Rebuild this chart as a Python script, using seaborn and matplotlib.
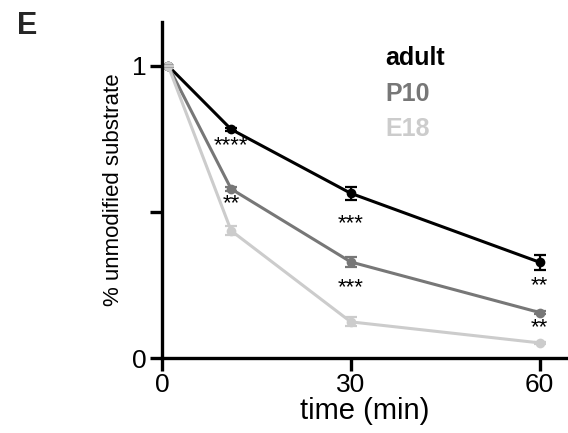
import matplotlib
matplotlib.use("Agg")
import matplotlib.pyplot as plt
import seaborn as sns
import pandas as pd

# values
time_min = [1, 11, 30, 60]
adult = [1.0, 0.783, 0.564, 0.328]
p10 = [1.0, 0.579, 0.329, 0.156]
e18 = [1.0, 0.436, 0.124, 0.052]
adult_err = [0.0, 0.006, 0.022, 0.026]
p10_err = [0.0, 0.008, 0.018, 0.006]
e18_err = [0.0, 0.015, 0.015, 0.004]

groups = ['adult', 'P10', 'E18']
colours = {'adult': '#000000', 'P10': '#777777', 'E18': '#cccccc'}

# significance marks: (time, y, text)
star_time = [11, 11, 30, 30, 60, 60]
star_y = [0.726, 0.527, 0.459, 0.240, 0.247, 0.103]
star_text = ['****', '**', '***', '***', '**', '**']

sns.set_style('ticks')
plt.rcParams['font.family'] = ['Liberation Sans', 'DejaVu Sans']

df = pd.concat([
    pd.DataFrame({'time': time_min, 'value': adult, 'err': adult_err, 'group': 'adult'}),
    pd.DataFrame({'time': time_min, 'value': p10, 'err': p10_err, 'group': 'P10'}),
    pd.DataFrame({'time': time_min, 'value': e18, 'err': e18_err, 'group': 'E18'}),
])

fig = plt.figure(figsize=(5.68, 4.33), dpi=100)
ax = fig.add_axes([0.285, 0.173, 0.715, 0.776])

sns.lineplot(data=df, x='time', y='value', hue='group', hue_order=groups,
             palette=colours, marker='o', markersize=7, markeredgewidth=0,
             linewidth=2.2, legend=False, ax=ax)
for g in groups:
    sub = df[df['group'] == g]
    ax.errorbar(sub['time'], sub['value'], yerr=sub['err'], fmt='none',
                ecolor=colours[g], elinewidth=1.6, capsize=4.5, capthick=1.6)

for t, y, s in zip(star_time, star_y, star_text):
    ax.text(t, y, s, ha='center', va='center', fontsize=16, color='black')

# legend as coloured text
for i, g in enumerate(groups):
    ax.text(0.55, 0.893 - i * 0.106, g, transform=ax.transAxes, color=colours[g],
            fontsize=18, fontweight='bold', ha='left', va='center')

ax.set_xlim(0, 64.5)
ax.set_ylim(0, 1.15)
ax.set_xticks([0, 30, 60])
ax.set_yticks([0, 0.5, 1])
ax.set_yticklabels(['0', '', '1'])
ax.tick_params(labelsize=19, width=2.4, length=9, direction='out', pad=2,
               color='black', labelcolor='black')
for side in ['left', 'bottom']:
    ax.spines[side].set_linewidth(2.4)
    ax.spines[side].set_color('black')
sns.despine(ax=ax, right=True, top=True)
ax.set_xlabel('time (min)', fontsize=21, labelpad=0, color='black')
ax.set_ylabel('% unmodified substrate', fontsize=16, labelpad=6, color='black')

fig.text(0.048, 0.94, 'E', fontsize=22, fontweight='bold', ha='center', va='center')

fig.savefig('out.png', dpi=100)
